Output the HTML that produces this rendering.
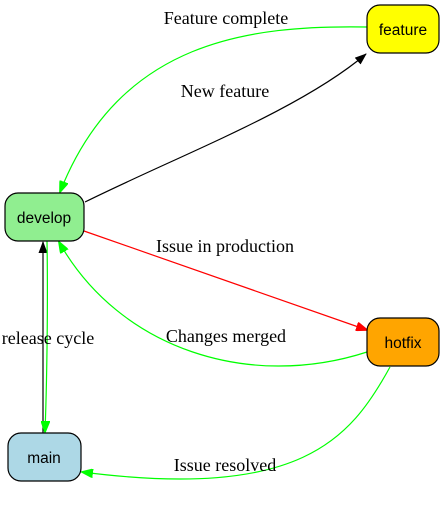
<!DOCTYPE html>
<html><head><style>html,body{margin:0;padding:0;background:#fff}</style></head><body>
<svg width="444" height="500" viewBox="0 0 444 500" xmlns="http://www.w3.org/2000/svg">
<defs>
<marker id="ab" markerWidth="12" markerHeight="9" refX="11" refY="4.5" orient="auto" markerUnits="userSpaceOnUse"><path d="M0,0L12,4.5L0,9z" fill="#000"/></marker>
<marker id="ag" markerWidth="12" markerHeight="9" refX="11" refY="4.5" orient="auto" markerUnits="userSpaceOnUse"><path d="M0,0L12,4.5L0,9z" fill="#0f0" stroke="#0f0"/></marker>
<marker id="ar" markerWidth="12" markerHeight="9" refX="11" refY="4.5" orient="auto" markerUnits="userSpaceOnUse"><path d="M0,0L12,4.5L0,9z" fill="#f00" stroke="#f00"/></marker>
</defs>
<g fill="none" stroke-width="1.2">
<path d="M85,202 C180,155 300,110 366,54" stroke="#000" marker-end="url(#ab)"/>
<path d="M367,27 C250,25 120,40 60,192" stroke="#0f0" marker-end="url(#ag)"/>
<path d="M84,231 L367,330" stroke="#f00" marker-end="url(#ar)"/>
<path d="M367,352 C250,390 120,350 59,242" stroke="#0f0" marker-end="url(#ag)"/>
<path d="M390,367 C350,440 300,500 82,472" stroke="#0f0" marker-end="url(#ag)"/>
<path d="M43,433 L43,242" stroke="#000" marker-end="url(#ab)"/>
<path d="M47,241 C48,300 47,380 45,432" stroke="#0f0" marker-end="url(#ag)"/>
</g>
<g stroke="#000" stroke-width="1.2">
<rect x="367" y="5" width="72" height="48" rx="13" fill="#ff0"/>
<rect x="5" y="193" width="79" height="48" rx="13" fill="#90ee90"/>
<rect x="367" y="318" width="72" height="48" rx="13" fill="#ffa500"/>
<rect x="8" y="433" width="73" height="48" rx="13" fill="#add8e6"/>
</g>
<g font-family="Liberation Sans, sans-serif" font-size="15.5" text-anchor="middle" fill="#000">
<text x="403" y="35">feature</text>
<text x="44" y="223">develop</text>
<text x="403" y="348">hotfix</text>
<text x="44" y="463">main</text>
</g>
<g font-family="Liberation Serif, serif" font-size="18" text-anchor="middle" fill="#000">
<text x="226" y="24">Feature complete</text>
<text x="225" y="97">New feature</text>
<text x="225" y="252">Issue in production</text>
<text x="226" y="342">Changes merged</text>
<text x="48" y="344">release cycle</text>
<text x="225" y="471">Issue resolved</text>
</g>
</svg>
</body></html>
